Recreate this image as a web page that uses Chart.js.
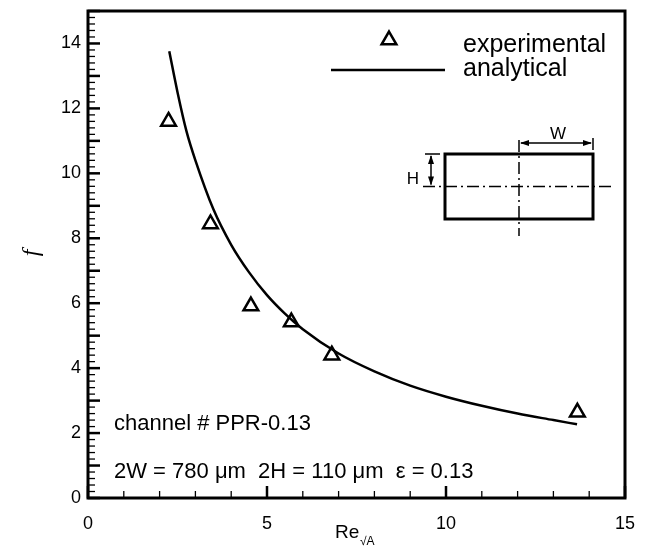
<!DOCTYPE html>
<html>
<head>
<meta charset="utf-8">
<script src="https://cdn.jsdelivr.net/npm/chart.js@4/dist/chart.umd.min.js"></script>
<style>
  html, body { margin: 0; padding: 0; background: #fff; }
</style>
</head>
<body>
<canvas id="grafico" width="646" height="550"></canvas>
<script>
// dados
const expRe = [2.25, 3.42, 4.55, 5.68, 6.81, 13.67];
const expF  = [11.6, 8.44, 5.91, 5.42, 4.40, 2.64];

const anaRe = [2.27, 2.5, 2.75, 3, 3.5, 4, 4.5, 5, 5.5, 6, 7, 8, 9, 10, 11, 12, 13, 13.66];
const anaF  = [13.76, 12.5, 11.3, 10.4, 8.9, 7.8, 6.95, 6.25, 5.68, 5.2, 4.45, 3.9, 3.46, 3.12, 2.84, 2.6, 2.4, 2.27];

const xTicks = [0, 5, 10, 15];
const yTicks = [0, 2, 4, 6, 8, 10, 12, 14];

const FONT = '"Liberation Sans", Arial, sans-serif';

function triangle(ctx, x, y, r) {
  ctx.beginPath();
  for (let k = 0; k < 3; k++) {
    const ang = k * 2 * Math.PI / 3;
    const px = x + Math.sin(ang) * r, py = y - Math.cos(ang) * r;
    k === 0 ? ctx.moveTo(px, py) : ctx.lineTo(px, py);
  }
  ctx.closePath();
  ctx.stroke();
}

function arrowHead(ctx, x, y, dx, dy) {
  // ponta em (x,y), apontando na direção (dx,dy)
  const len = 9, half = 3;
  const bx = x - dx * len, by = y - dy * len;
  ctx.beginPath();
  ctx.moveTo(x, y);
  ctx.lineTo(bx - dy * half, by + dx * half);
  ctx.lineTo(bx + dy * half, by - dx * half);
  ctx.closePath();
  ctx.fill();
}

const decoracao = {
  id: 'decoracao',
  afterDraw(chart) {
    const { ctx, chartArea: a, scales: { x, y } } = chart;
    ctx.save();
    ctx.strokeStyle = '#000';
    ctx.fillStyle = '#000';

    // ticks para dentro - eixo y
    for (let i = 0; i <= 75; i++) {
      const py = y.getPixelForValue(i / 5);
      const major = i % 5 === 0;
      ctx.lineWidth = major ? 2.5 : 1.3;
      ctx.beginPath();
      ctx.moveTo(a.left, py);
      ctx.lineTo(a.left + (major ? 12 : 7), py);
      ctx.stroke();
    }
    // ticks - eixo x
    for (let i = 0; i <= 15; i++) {
      const px = x.getPixelForValue(i);
      const major = i % 5 === 0;
      ctx.lineWidth = major ? 2.5 : 1.3;
      ctx.beginPath();
      ctx.moveTo(px, a.bottom);
      ctx.lineTo(px, a.bottom - (major ? 12 : 7));
      ctx.stroke();
    }

    // moldura
    ctx.lineWidth = 3;
    ctx.strokeRect(a.left, a.top, a.right - a.left, a.bottom - a.top);

    // legenda
    ctx.lineWidth = 2.5;
    triangle(ctx, 389, 40, 8.5);
    ctx.beginPath();
    ctx.moveTo(331, 70);
    ctx.lineTo(445, 70);
    ctx.stroke();
    ctx.font = '25px ' + FONT;
    ctx.textBaseline = 'alphabetic';
    ctx.textAlign = 'left';
    ctx.fillText('experimental', 463, 52);
    ctx.fillText('analytical', 463, 76);

    // textos
    ctx.font = '22px ' + FONT;
    ctx.fillText('channel # PPR-0.13', 114, 430);
    ctx.fillText('2W = 780 \u03bcm  2H = 110 \u03bcm  \u03b5 = 0.13', 114, 478);

    // titulo eixo x
    ctx.font = '19px ' + FONT;
    ctx.fillText('Re', 335, 538);
    ctx.font = '12px ' + FONT;
    ctx.fillText('\u221aA', 360, 545);

    // titulo eixo y (f deitado)
    ctx.save();
    ctx.translate(32, 253);
    ctx.rotate(-Math.PI / 2);
    ctx.font = 'italic 24px "Liberation Serif", "Times New Roman", serif';
    ctx.textAlign = 'center';
    ctx.textBaseline = 'middle';
    ctx.fillText('f', 0, 0);
    ctx.restore();

    // esquema do canal
    const rx0 = 445, rx1 = 593, ry0 = 154, ry1 = 219, cx = 519, cy = 186.5;
    ctx.lineWidth = 3;
    ctx.strokeRect(rx0, ry0, rx1 - rx0, ry1 - ry0);

    ctx.lineWidth = 1.5;
    ctx.setLineDash([12, 4, 2, 4]);
    ctx.beginPath();
    ctx.moveTo(423, cy); ctx.lineTo(613, cy);
    ctx.moveTo(cx, 140); ctx.lineTo(cx, 236);
    ctx.stroke();
    ctx.setLineDash([]);

    // W
    ctx.lineWidth = 1.5;
    ctx.beginPath();
    ctx.moveTo(cx + 2, 143); ctx.lineTo(rx1 - 2, 143);
    ctx.moveTo(rx1, 138); ctx.lineTo(rx1, 150);
    ctx.stroke();
    arrowHead(ctx, cx + 1, 143, -1, 0);
    arrowHead(ctx, rx1 - 1, 143, 1, 0);
    ctx.font = '17px ' + FONT;
    ctx.textAlign = 'center';
    ctx.fillText('W', 558, 139);

    // H
    ctx.beginPath();
    ctx.moveTo(431, ry0 + 2); ctx.lineTo(431, cy - 2);
    ctx.moveTo(425, ry0); ctx.lineTo(440, ry0);
    ctx.stroke();
    arrowHead(ctx, 431, ry0 + 1, 0, -1);
    arrowHead(ctx, 431, cy - 1, 0, 1);
    ctx.fillText('H', 413, 184);

    ctx.restore();
  }
};

new Chart(document.getElementById('grafico'), {
  type: 'scatter',
  data: {
    datasets: [
      {
        label: 'analytical',
        data: anaRe.map((v, i) => ({ x: v, y: anaF[i] })),
        showLine: true,
        borderColor: '#000',
        borderWidth: 2.5,
        pointRadius: 0,
        cubicInterpolationMode: 'monotone'
      },
      {
        label: 'experimental',
        data: expRe.map((v, i) => ({ x: v, y: expF[i] })),
        pointStyle: 'triangle',
        pointRadius: 8.5,
        pointBorderWidth: 2.5,
        borderColor: '#000',
        backgroundColor: 'rgba(0,0,0,0)'
      }
    ]
  },
  options: {
    responsive: false,
    animation: false,
    layout: { padding: { top: 7, right: 21, left: 0, bottom: 0 } },
    plugins: { legend: { display: false }, tooltip: { enabled: false } },
    scales: {
      x: {
        type: 'linear',
        min: 0, max: 15,
        grid: { display: false, drawTicks: false },
        border: { display: false },
        ticks: { color: '#000', font: { family: FONT, size: 18 }, padding: 15, maxRotation: 0 },
        afterBuildTicks: s => { s.ticks = xTicks.map(v => ({ value: v })); },
        afterFit: s => { s.height = 52; s.paddingLeft = 0; s.paddingRight = 0; }
      },
      y: {
        min: 0, max: 15,
        grid: { display: false, drawTicks: false },
        border: { display: false },
        ticks: { color: '#000', font: { family: FONT, size: 18 }, padding: 7 },
        afterBuildTicks: s => { s.ticks = yTicks.map(v => ({ value: v })); },
        afterFit: s => { s.width = 88; s.paddingTop = 0; s.paddingBottom = 0; }
      }
    }
  },
  plugins: [decoracao]
});
</script>
</body>
</html>
